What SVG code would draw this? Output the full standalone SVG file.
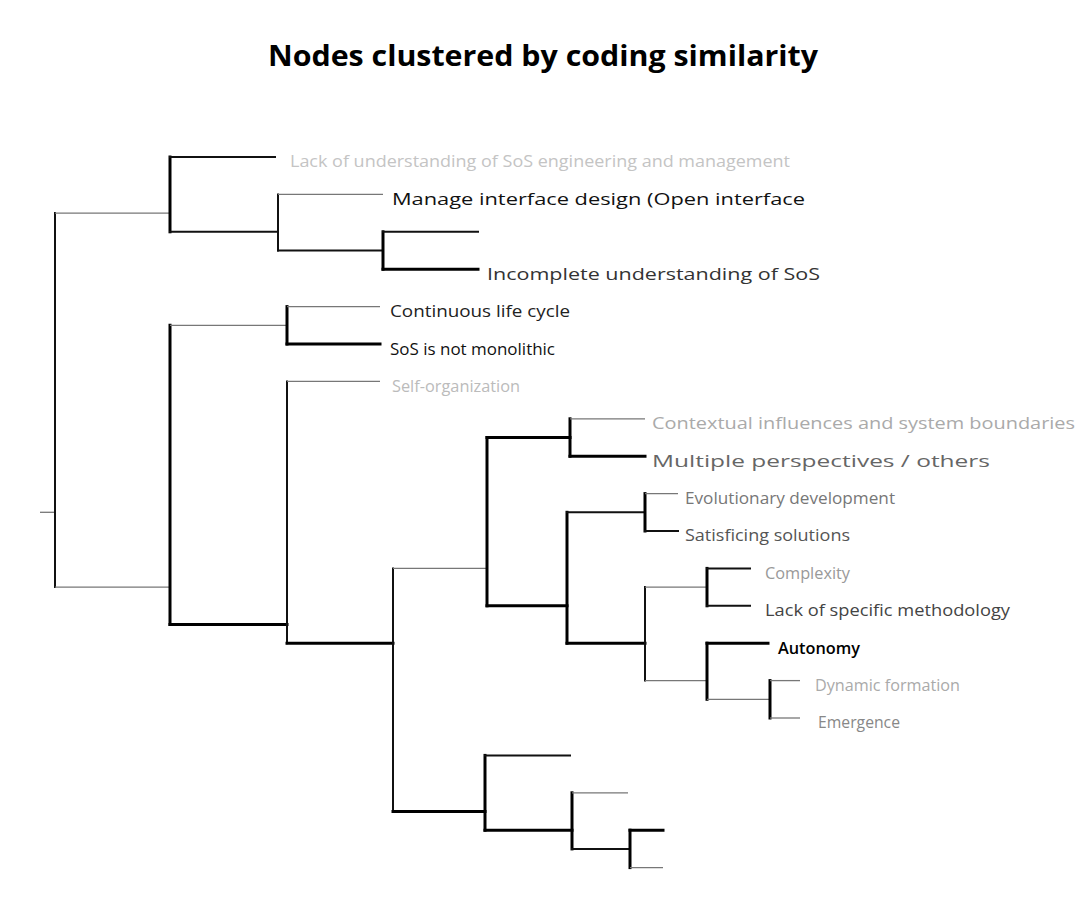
<svg xmlns="http://www.w3.org/2000/svg" width="1078" height="914" viewBox="0 0 1078 914">
<style>
  .k { stroke: #000; stroke-width: 3; stroke-linecap: square; fill: none; }
  .m { stroke: #111; stroke-width: 2; stroke-linecap: square; fill: none; }
  .f { stroke: #777; stroke-width: 1.3; stroke-linecap: butt; fill: none; }
  .lbl { font-family: "Open Sans", "Liberation Sans", sans-serif; font-size: 16px; }
  .title { font-family: "Open Sans", "Liberation Sans", sans-serif; font-size: 28px; font-weight: 700; fill: #000; }
</style>
<rect x="0" y="0" width="1078" height="914" fill="#fff"/>
<text class="title" x="543" y="66" text-anchor="middle" textLength="550" lengthAdjust="spacingAndGlyphs">Nodes clustered by coding similarity</text>

<g id="connectors">
  <!-- root -->
  <line class="f" x1="40" y1="512.3" x2="55" y2="512.3"/>
  <line class="m" x1="55" y1="213.1" x2="55" y2="587.1"/>
  <line class="f" x1="55" y1="213.1" x2="170" y2="213.1"/>
  <line class="f" x1="55" y1="587.1" x2="170" y2="587.1"/>
  <!-- A -->
  <line class="k" x1="170" y1="157" x2="170" y2="231.8"/>
  <line class="m" x1="170" y1="157" x2="275" y2="157"/>
  <line class="m" x1="170" y1="231.8" x2="278" y2="231.8"/>
  <!-- B -->
  <line class="m" x1="278" y1="194.4" x2="278" y2="250.5"/>
  <line class="f" x1="278" y1="194.4" x2="383" y2="194.4"/>
  <line class="m" x1="278" y1="250.5" x2="383" y2="250.5"/>
  <!-- C -->
  <line class="k" x1="383" y1="231.8" x2="383" y2="269.2"/>
  <line class="m" x1="383" y1="231.8" x2="478" y2="231.8"/>
  <line class="k" x1="383" y1="269.2" x2="478" y2="269.2"/>
  <!-- U -->
  <line class="k" x1="170" y1="325.3" x2="170" y2="624.5"/>
  <line class="f" x1="170" y1="325.3" x2="287" y2="325.3"/>
  <line class="k" x1="170" y1="624.5" x2="287" y2="624.5"/>
  <!-- E -->
  <line class="k" x1="287" y1="306.6" x2="287" y2="344"/>
  <line class="f" x1="287" y1="306.6" x2="380" y2="306.6"/>
  <line class="k" x1="287" y1="344" x2="380" y2="344"/>
  <!-- T -->
  <line class="m" x1="287" y1="381.4" x2="287" y2="643.2"/>
  <line class="f" x1="287" y1="381.4" x2="380" y2="381.4"/>
  <line class="k" x1="287" y1="643.2" x2="393" y2="643.2"/>
  <!-- S -->
  <line class="m" x1="393" y1="568.4" x2="393" y2="811.5"/>
  <line class="f" x1="393" y1="568.4" x2="487" y2="568.4"/>
  <line class="k" x1="393" y1="811.5" x2="485" y2="811.5"/>
  <!-- M -->
  <line class="k" x1="487" y1="437.5" x2="487" y2="605.8"/>
  <line class="k" x1="487" y1="437.5" x2="570" y2="437.5"/>
  <line class="k" x1="487" y1="605.8" x2="567" y2="605.8"/>
  <!-- L -->
  <line class="k" x1="570" y1="418.8" x2="570" y2="456.2"/>
  <line class="f" x1="570" y1="418.8" x2="645" y2="418.8"/>
  <line class="k" x1="570" y1="456.2" x2="645" y2="456.2"/>
  <!-- K -->
  <line class="k" x1="567" y1="512.3" x2="567" y2="643.2"/>
  <line class="m" x1="567" y1="512.3" x2="645" y2="512.3"/>
  <line class="k" x1="567" y1="643.2" x2="645" y2="643.2"/>
  <!-- J -->
  <line class="k" x1="645" y1="493.6" x2="645" y2="531"/>
  <line class="f" x1="645" y1="493.6" x2="678" y2="493.6"/>
  <line class="m" x1="645" y1="531" x2="678" y2="531"/>
  <!-- I -->
  <line class="m" x1="645" y1="587.1" x2="645" y2="680.6"/>
  <line class="f" x1="645" y1="587.1" x2="707" y2="587.1"/>
  <line class="f" x1="645" y1="680.6" x2="707" y2="680.6"/>
  <!-- H -->
  <line class="k" x1="707" y1="568.4" x2="707" y2="605.8"/>
  <line class="m" x1="707" y1="568.4" x2="750" y2="568.4"/>
  <line class="m" x1="707" y1="605.8" x2="750" y2="605.8"/>
  <!-- G -->
  <line class="k" x1="707" y1="643.2" x2="707" y2="699.3"/>
  <line class="k" x1="707" y1="643.2" x2="768" y2="643.2"/>
  <line class="f" x1="707" y1="699.3" x2="770" y2="699.3"/>
  <!-- F -->
  <line class="k" x1="770" y1="680.6" x2="770" y2="718"/>
  <line class="f" x1="770" y1="680.6" x2="800" y2="680.6"/>
  <line class="f" x1="770" y1="718" x2="800" y2="718"/>
  <!-- R -->
  <line class="k" x1="485" y1="755.4" x2="485" y2="830.2"/>
  <line class="m" x1="485" y1="755.4" x2="570" y2="755.4"/>
  <line class="k" x1="485" y1="830.2" x2="572" y2="830.2"/>
  <!-- Q -->
  <line class="k" x1="572" y1="792.8" x2="572" y2="848.9"/>
  <line class="f" x1="572" y1="792.8" x2="628" y2="792.8"/>
  <line class="m" x1="572" y1="848.9" x2="630" y2="848.9"/>
  <!-- P -->
  <line class="k" x1="630" y1="830.2" x2="630" y2="867.6"/>
  <line class="k" x1="630" y1="830.2" x2="663" y2="830.2"/>
  <line class="f" x1="630" y1="867.6" x2="663" y2="867.6"/>
</g>

<g id="node-lack-of-understanding"><text class="lbl" x="290" y="167" fill="#c4c4c4" textLength="500" lengthAdjust="spacingAndGlyphs">Lack of understanding of SoS engineering and management</text></g>
<g id="node-manage-interface"><text class="lbl" x="392" y="205" fill="#111" textLength="413" lengthAdjust="spacingAndGlyphs">Manage interface design (Open interface</text></g>
<g id="node-incomplete-understanding"><text class="lbl" x="487" y="280" fill="#333" textLength="333" lengthAdjust="spacingAndGlyphs">Incomplete understanding of SoS</text></g>
<g id="node-continuous-life-cycle"><text class="lbl" x="390" y="317" fill="#222" textLength="180" lengthAdjust="spacingAndGlyphs">Continuous life cycle</text></g>
<g id="node-sos-not-monolithic"><text class="lbl" x="390" y="355" fill="#111" textLength="165" lengthAdjust="spacingAndGlyphs">SoS is not monolithic</text></g>
<g id="node-self-organization"><text class="lbl" x="392" y="392" fill="#bbb" textLength="128" lengthAdjust="spacingAndGlyphs">Self-organization</text></g>
<g id="node-contextual-influences"><text class="lbl" x="652" y="429" fill="#aaa" textLength="423" lengthAdjust="spacingAndGlyphs">Contextual influences and system boundaries</text></g>
<g id="node-multiple-perspectives"><text class="lbl" x="652" y="467" fill="#666" textLength="338" lengthAdjust="spacingAndGlyphs">Multiple perspectives / others</text></g>
<g id="node-evolutionary-development"><text class="lbl" x="685" y="504" fill="#777" textLength="210" lengthAdjust="spacingAndGlyphs">Evolutionary development</text></g>
<g id="node-satisficing-solutions"><text class="lbl" x="685" y="541" fill="#555" textLength="165" lengthAdjust="spacingAndGlyphs">Satisficing solutions</text></g>
<g id="node-complexity"><text class="lbl" x="765" y="579" fill="#999" textLength="85" lengthAdjust="spacingAndGlyphs">Complexity</text></g>
<g id="node-lack-of-methodology"><text class="lbl" x="765" y="616" fill="#444" textLength="245" lengthAdjust="spacingAndGlyphs">Lack of specific methodology</text></g>
<g id="node-autonomy"><text class="lbl" x="778" y="654" fill="#000" font-weight="600" textLength="82" lengthAdjust="spacingAndGlyphs">Autonomy</text></g>
<g id="node-dynamic-formation"><text class="lbl" x="815" y="691" fill="#aaa" textLength="145" lengthAdjust="spacingAndGlyphs">Dynamic formation</text></g>
<g id="node-emergence"><text class="lbl" x="818" y="728" fill="#888" textLength="82" lengthAdjust="spacingAndGlyphs">Emergence</text></g>
</svg>
